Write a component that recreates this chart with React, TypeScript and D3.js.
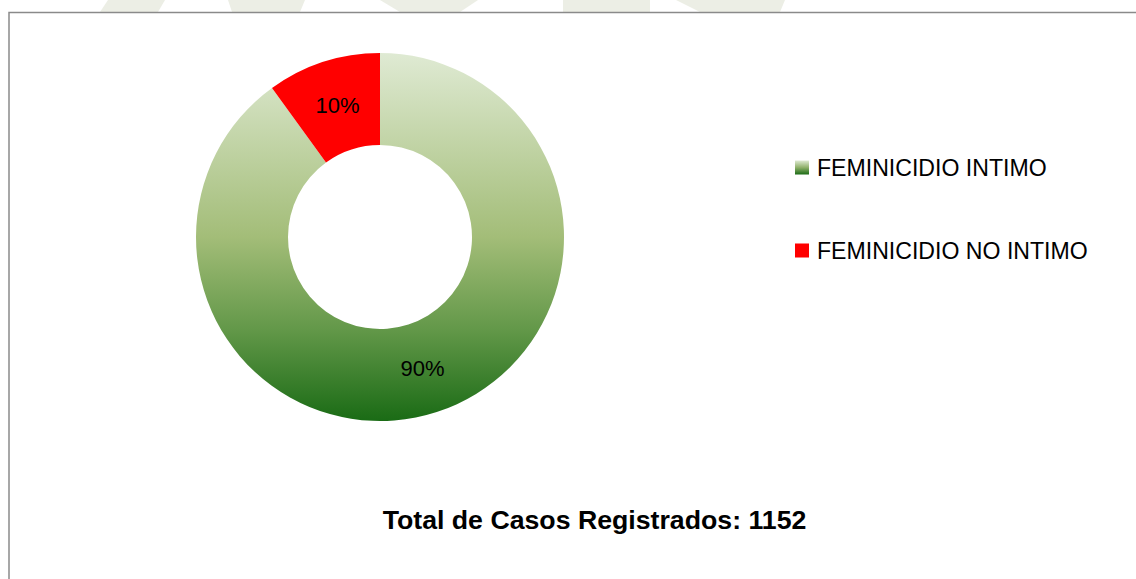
import React from "react";
import * as d3 from "d3";

const categories = ["FEMINICIDIO INTIMO", "FEMINICIDIO NO INTIMO"];
const values = [1037, 115];
const percentLabels = ["90%", "10%"];
const totalCases = 1152;
const title = `Total de Casos Registrados: ${totalCases}`;

const W = 1136;
const H = 579;
const cx = 380;
const cy = 237;
const outerR = 184;
const innerR = 92;
const FONT = "'Liberation Sans', Arial, sans-serif";

export default function App() {
  const pie = d3.pie<number>().sort(null).value((d) => d);
  const arcs = pie(values);
  const arcGen = d3.arc<d3.PieArcDatum<number>>().innerRadius(innerR).outerRadius(outerR);
  const fills = ["url(#greenGrad)", "#ff0000"];
  const legendFills = ["url(#greenGradLegend)", "#ff0000"];
  const legendY = d3.scalePoint<string>().domain(categories).range([168, 251]);

  return (
    <svg
      width={W}
      height={H}
      style={{ position: "absolute", left: 0, top: 0, background: "#fff" }}
      fontFamily={FONT}
    >
      <defs>
        <linearGradient id="greenGrad" gradientUnits="userSpaceOnUse" x1={0} y1={-outerR} x2={0} y2={outerR}>
          <stop offset="0" stopColor="#dfead3" />
          <stop offset="0.5" stopColor="#a3bd78" />
          <stop offset="0.75" stopColor="#639849" />
          <stop offset="1" stopColor="#1a6b15" />
        </linearGradient>
        <linearGradient id="greenGradLegend" x1="0" y1="0" x2="0" y2="1">
          <stop offset="0" stopColor="#dfead3" />
          <stop offset="0.5" stopColor="#8fb06a" />
          <stop offset="1" stopColor="#1a6b15" />
        </linearGradient>
      </defs>

      {/* faint watermark fragments above the frame */}
      <g fill="#eceee5">
        <polygon points="108,0 165,0 158,12 100,12" />
        <polygon points="228,0 305,0 300,12 232,12" />
        <polygon points="380,0 478,0 460,12 400,12" />
        <polygon points="563,0 650,0 650,12 563,12" />
        <polygon points="676,0 785,0 780,12 700,12" />
      </g>

      <rect x={9} y={12.5} width={W} height={H} fill="#fff" stroke="#8a8a8a" strokeWidth={1.5} />

      <g transform={`translate(${cx},${cy})`}>
        {arcs.map((a, i) => (
          <path key={i} d={arcGen(a) || ""} fill={fills[i]} />
        ))}
        {arcs.map((a, i) => {
          const [x, y] = arcGen.centroid(a);
          return (
            <text key={i} x={x} y={y} dy="0.35em" textAnchor="middle" fontSize={22} fill="#000">
              {percentLabels[i]}
            </text>
          );
        })}
      </g>

      {categories.map((c, i) => {
        const y = legendY(c)!;
        return (
          <g key={c}>
            <rect x={795} y={y - 7.5} width={14} height={14} fill={legendFills[i]} />
            <text x={817} y={y} dy="0.35em" fontSize={23.1} fill="#000">
              {c}
            </text>
          </g>
        );
      })}

      <text x={594.5} y={529} textAnchor="middle" fontSize={26.7} fontWeight="bold" fill="#000">
        {title}
      </text>
    </svg>
  );
}
